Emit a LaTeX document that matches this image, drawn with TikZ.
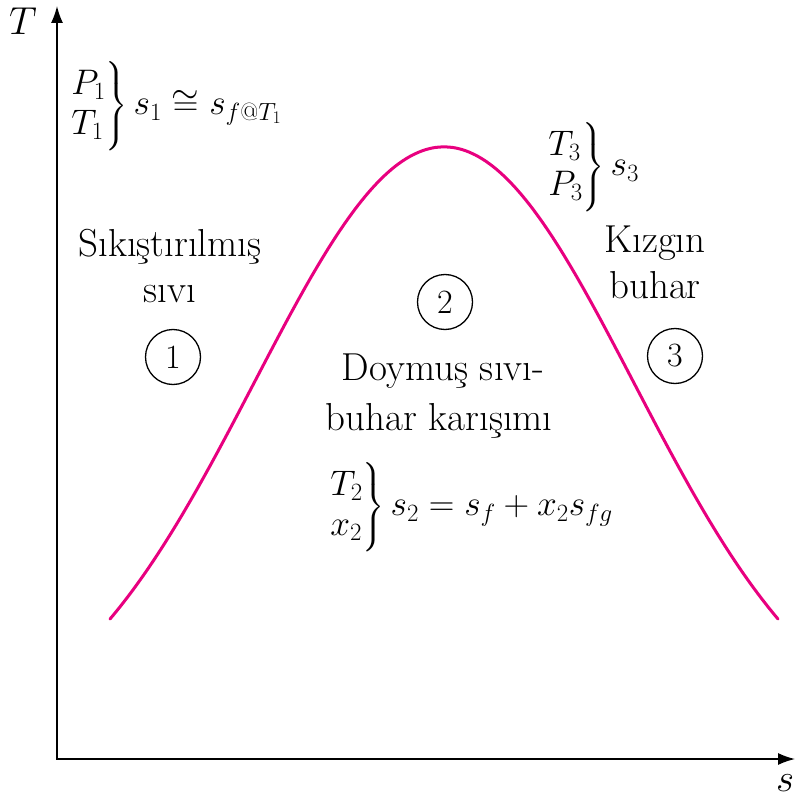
\RequirePackage{fix-cm}
\documentclass[tikz,border=0pt]{standalone}
\usepackage{amsmath}
\usetikzlibrary{arrows.meta}
\definecolor{satpink}{RGB}{232,0,127}
\begin{document}
\begin{tikzpicture}[x=1pt,y=-1pt,
  lbl/.style={font=\fontsize{39}{46}\selectfont, inner sep=0pt},
  eqn/.style={font=\fontsize{35.5}{42}\selectfont, inner sep=0pt, anchor=west},
  num/.style={circle, draw, line width=1.3pt, minimum size=55pt, inner sep=0pt, font=\fontsize{34}{40}\selectfont},
  axisline/.style={line width=1.5pt, {Latex[length=17pt,width=12pt]}-{Latex[length=17pt,width=12pt]}},
  sat/.style={line width=3pt, draw=satpink, line cap=round}]
\useasboundingbox (0,0) rectangle (796,799);
\coordinate (O) at (57,759);
\coordinate (Ytip) at (57,6);
\coordinate (Xtip) at (795,759);
\draw[axisline] (Ytip) -- (O) -- (Xtip);
\node[lbl] (Tlab) at (23,21) {$T$};
\node[lbl] (slab) at (785,783) {$s$};
\draw[sat] plot[domain=110:778, samples=200] (\x, {147+600*(1-exp(-(((\x-444)/100)^2)/7.22))});
\node[eqn] (e1) at (70,106) {$\left.\begin{array}{@{}l@{}}P_1\\[-2pt] T_1\end{array}\right\}s_1\cong s_{f\text{@}T_1}$};
\node[eqn] (e3) at (547,167) {$\left.\begin{array}{@{}l@{}}T_3\\[-2pt] P_3\end{array}\right\}s_3$};
\node[eqn] (e2) at (329,507) {$\left.\begin{array}{@{}l@{}}T_2\\[-2pt] x_2\end{array}\right\}s_2 = s_f + x_2 s_{fg}$};
\node[lbl, anchor=base] (liq1) at (170,257) {Sıkıştırılmış};
\node[lbl, anchor=base] (liq2) at (170,302) {sıvı};
\node[lbl, anchor=base] (vap1) at (655,253) {Kızgın};
\node[lbl, anchor=base] (vap2) at (655,298) {buhar};
\node[lbl, anchor=base] (mix1) at (443,380) {Doymuş sıvı-};
\node[lbl, anchor=base] (mix2) at (439,430) {buhar karışımı};
\node[num] (n1) at (173,357) {1};
\node[num] (n2) at (445,302) {2};
\node[num] (n3) at (675,356) {3};
\end{tikzpicture}
\end{document}
